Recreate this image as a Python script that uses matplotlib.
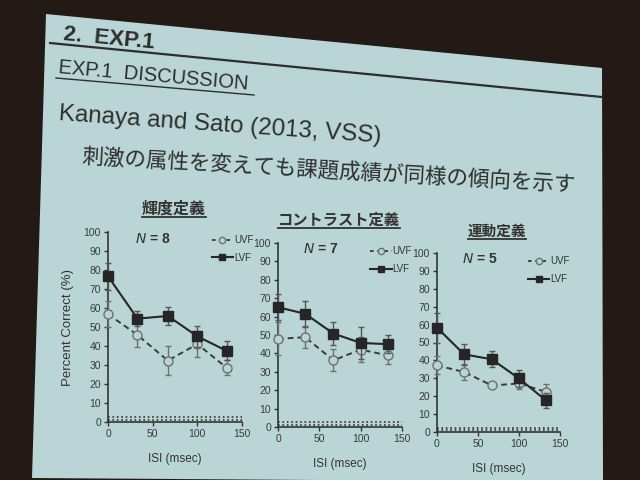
import matplotlib
matplotlib.use("Agg")
import matplotlib.pyplot as plt
from matplotlib.patches import Polygon
from matplotlib.lines import Line2D

plt.rcParams['font.family'] = ['Liberation Sans', 'Noto Sans CJK JP']

# data
isi = [0, 33, 67, 100, 133]
panel_titles = ['輝度定義', 'コントラスト定義', '運動定義']
n_subjects = [8, 7, 5]
lvf = [[76.7, 54.4, 55.8, 45.1, 37.4],
       [65.1, 61.5, 50.8, 45.7, 45.0],
       [58.3, 43.4, 40.6, 29.9, 17.6]]
lvf_err = [[7, 4, 4.5, 5.5, 5],
           [7, 7, 6, 8.5, 5],
           [8.4, 6, 4.5, 4.7, 4]]
uvf = [[56.8, 45.8, 32.3, 41.0, 28.5],
       [47.9, 48.8, 36.2, 42.1, 38.9],
       [37.2, 33.5, 26.0, 27.1, 22.4]]
uvf_err = [[7, 6.5, 7.5, 7, 4],
           [9, 6, 6, 7, 4.5],
           [5, 4.5, 1, 3, 4.5]]
chance = [2.5, 1.0]

W, H = 640, 480
bg = '#231a16'
slide = '#bad5d6'
ink = '#2e2e2e'

fig = plt.figure(figsize=(6.4, 4.8), dpi=100, facecolor=bg)

def fx(px):
    return px / W

def fy(py):
    return 1 - py / H

# projected slide
corners = [(46, 14), (602, 68), (603, 482), (32, 478)]
fig.patches.append(Polygon([(fx(a), fy(b)) for a, b in corners], closed=True,
                           transform=fig.transFigure, facecolor=slide,
                           edgecolor='none', zorder=-5))

# header texts
fig.text(fx(63), fy(40), '2.  EXP.1', fontsize=16, fontweight='bold', color=ink,
         rotation=-5.3, rotation_mode='anchor', ha='left', va='baseline')
fig.add_artist(Line2D([fx(50), fx(602)], [fy(43), fy(97)], color=ink, lw=1.6))
fig.text(fx(58), fy(73), 'EXP.1  DISCUSSION', fontsize=14.5, color=ink, rotation=-5.0,
         rotation_mode='anchor', ha='left', va='baseline')
fig.add_artist(Line2D([fx(56), fx(254)], [fy(78), fy(95)], color=ink, lw=1.0))
fig.text(fx(58), fy(120), 'Kanaya and Sato (2013, VSS)', fontsize=17.4, color=ink,
         rotation=-4.0, rotation_mode='anchor', ha='left', va='baseline')
fig.text(fx(82), fy(162), '刺激の属性を変えても課題成績が同様の傾向を示す', fontsize=15.5,
         color=ink, rotation=-3.3, rotation_mode='anchor', ha='left', va='baseline',
         family=['Noto Sans CJK JP', 'DejaVu Sans'])

# axes boxes in pixels: left spine, right end, top (100), bottom (0)
boxes = [(108, 242, 232, 422), (278, 402, 243, 427), (437, 560, 253, 432)]
title_pos = [(174, 214), (339, 225), (497, 236)]
title_size = [11.5, 11, 10.5]

for i in range(3):
    l, r, t, b = boxes[i]
    ax = fig.add_axes([fx(l), fy(b), fx(r - l), (b - t) / H])
    ax.set_facecolor('none')
    ax.errorbar(isi, uvf[i], yerr=uvf_err[i], color='#3a3a3a', ls='--', lw=1.4,
                marker='o', ms=6.5, mfc=slide, mec='#707070', ecolor='#707070',
                elinewidth=1, capsize=2.5, dashes=(3, 2), clip_on=False, zorder=3)
    ax.errorbar(isi, lvf[i], yerr=lvf_err[i], color='#262626', ls='-', lw=1.5,
                marker='s', ms=6.5, mfc='#262626', mec='#262626', ecolor='#555555',
                elinewidth=1, capsize=2.5, clip_on=False, zorder=4)
    for c in chance:
        ax.axhline(c, color='#333333', ls=':', lw=1.2)
    ax.set_xlim(0, 150)
    ax.set_ylim(0, 100)
    ax.set_xticks([0, 50, 100, 150])
    ax.set_yticks(range(0, 101, 10))
    for s in ['top', 'right']:
        ax.spines[s].set_visible(False)
    for s in ['left', 'bottom']:
        ax.spines[s].set_color('#333333')
        ax.spines[s].set_linewidth(1.2)
    ax.tick_params(direction='out', length=3, width=1, colors='#333333',
                   labelsize=7.5, labelcolor='#3a3a3a', pad=2)
    ax.set_xlabel('ISI (msec)', fontsize=8.5, color='#333333', labelpad=10)
    if i == 0:
        ax.set_ylabel('Percent Correct (%)', fontsize=9.5, color='#333333', labelpad=7)
    ax.text(0.2, 0.965, '$\\mathit{N}$ = %d' % n_subjects[i], transform=ax.transAxes,
            fontsize=10, fontweight='bold', color='#333333', va='center')
    ax.legend(handles=[Line2D([], [], color='#3a3a3a', ls='--', dashes=(2, 2), marker='o',
                              ms=4.5, mfc=slide, mec='#707070', lw=1.3),
                       Line2D([], [], color='#262626', ls='-', marker='s', ms=4.5,
                              mfc='#262626', lw=1.5)],
              labels=['UVF', 'LVF'], loc='upper right', bbox_to_anchor=(1.15, 1.03),
              frameon=False, fontsize=7, handlelength=2.2, handletextpad=0.1,
              labelspacing=0.8, labelcolor='#333333')
    tx, ty = title_pos[i]
    fig.text(fx(tx), fy(ty), panel_titles[i], fontsize=title_size[i], fontweight='bold',
             color='#333333', ha='center', va='baseline',
             family=['Noto Sans CJK JP', 'DejaVu Sans'])
    tw = title_size[i] * 1.39 * len(panel_titles[i])
    fig.add_artist(Line2D([fx(tx - tw / 2), fx(tx + tw / 2)], [fy(ty + 3), fy(ty + 3)],
                          color='#333333', lw=1.3))

fig.savefig('out.png', dpi=100, facecolor=bg)
